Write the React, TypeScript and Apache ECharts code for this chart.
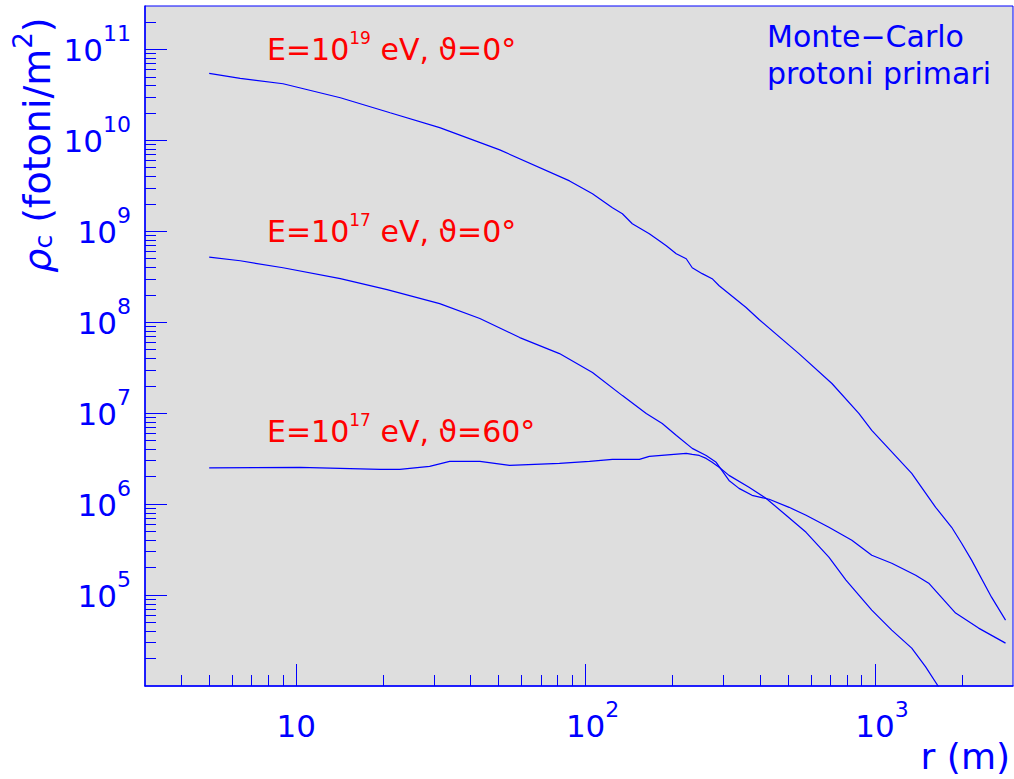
import React, { useEffect, useRef } from 'react';
import * as echarts from 'echarts';

// E = 10^19 eV, theta = 0°
const R_E19_T0 = [5, 6.4, 9, 14.2, 21.1, 31.3, 50.5, 88, 105.6, 123.8, 134, 145, 166, 179.7, 190, 205.7, 222.7, 233.6, 252.9, 273.7, 289.4, 358.6, 397.6, 546, 710, 879.6, 975, 1340, 1621, 1841, 1993, 2158, 2529, 2827];
const RHO_E19_T0 = [5.46e10, 4.81e10, 4.19e10, 2.94e10, 2.01e10, 1.38e10, 7.85e9, 3.58e9, 2.58e9, 1.81e9, 1.56e9, 1.21e9, 9.39e8, 7.87e8, 6.93e8, 5.66e8, 4.99e8, 3.97e8, 3.42e8, 3.01e8, 2.52e8, 1.45e8, 1.07e8, 4.52e7, 2.12e7, 9.93e6, 6.46e6, 2.18e6, 9.22e5, 5.56e5, 3.71e5, 2.42e5, 9.48e4, 5.30e4];

// E = 10^17 eV, theta = 0°
const R_E17_T0 = [5, 6.4, 9, 14.2, 20.6, 31.3, 43.1, 59.2, 81.2, 105.6, 134, 162, 184, 206, 233.6, 261, 282.6, 313, 339, 376, 431, 505, 578, 693, 832, 975, 1143, 1383, 1534, 1900, 2281, 2827];
const RHO_E17_T0 = [5.19e8, 4.74e8, 3.97e8, 3.01e8, 2.28e8, 1.60e8, 1.10e8, 6.78e7, 4.52e7, 2.80e7, 1.56e7, 9.93e6, 7.71e6, 5.69e6, 4.10e6, 3.43e6, 2.88e6, 1.82e6, 1.49e6, 1.25e6, 1.13e6, 9.22e5, 7.54e5, 5.56e5, 4.01e5, 2.74e5, 2.24e5, 1.65e5, 1.35e5, 6.33e4, 4.33e4, 2.96e4];

// E = 10^17 eV, theta = 60°
const R_E17_T60 = [5, 10.3, 19.5, 22.8, 28.9, 33.9, 43.1, 54.6, 81.2, 103.1, 123.8, 153.4, 166, 222.7, 233.6, 247, 261, 273.7, 289.4, 313, 367, 420, 493, 578, 693, 794, 975, 1143, 1340, 1497, 1661, 1946];
const RHO_E17_T60 = [2.50e6, 2.54e6, 2.41e6, 2.41e6, 2.60e6, 2.95e6, 2.95e6, 2.67e6, 2.81e6, 2.95e6, 3.10e6, 3.10e6, 3.35e6, 3.61e6, 3.52e6, 3.43e6, 3.18e6, 2.88e6, 2.54e6, 2.07e6, 1.53e6, 1.16e6, 7.54e5, 4.90e5, 2.61e5, 1.46e5, 6.83e4, 4.12e4, 2.61e4, 1.62e4, 9.75e3, 5.19e3];

const X_MAJOR_TICKS = [10, 100, 1000];
const X_MINOR_TICKS = [4, 5, 6, 7, 8, 9, 20, 30, 40, 50, 60, 70, 80, 90, 200, 300, 400, 500, 600, 700, 800, 900, 2000];
const Y_MAJOR_TICKS = [1e5, 1e6, 1e7, 1e8, 1e9, 1e10, 1e11];
const Y_MINOR_MANTISSAS = [2, 3, 4, 5, 6, 7, 8, 9];
const Y_MINOR_DECADES = [1e4, 1e5, 1e6, 1e7, 1e8, 1e9, 1e10];
const Y_MINOR_TICKS = [
  ...Y_MINOR_DECADES.flatMap((d) => Y_MINOR_MANTISSAS.map((m) => m * d)),
  2e11,
];

const X_MIN = 3;
const X_MAX = 3000;
const Y_MIN = 1e4;
const Y_MAX = 3e11;

const BLUE = '#0000ff';
const RED = '#ff0000';
const FONT = 'DejaVu Sans';

export default function App() {
  const ref = useRef<HTMLDivElement>(null);

  useEffect(() => {
    if (!ref.current) return;
    const chart = echarts.init(ref.current, null, { renderer: 'svg' });
    const pair = (xs: number[], ys: number[]) => xs.map((x, i) => [x, ys[i]]);
    const expOf = (v: number) => Math.round(Math.log10(v));

    const axisRich = {
      b: { fontFamily: FONT, fontSize: 31, color: BLUE, lineHeight: 43, verticalAlign: 'bottom' },
      bp: { fontFamily: FONT, fontSize: 31, color: BLUE, lineHeight: 43, verticalAlign: 'bottom', padding: [0, 0, 0, 14] },
      s: { fontFamily: FONT, fontSize: 22, color: BLUE, lineHeight: 43, verticalAlign: 'top' },
    };

    const lineSeries = (xs: number[], ys: number[]) => ({
      type: 'line',
      xAxisIndex: 0,
      yAxisIndex: 0,
      data: pair(xs, ys),
      showSymbol: false,
      symbol: 'none',
      clip: true,
      silent: true,
      lineStyle: { color: BLUE, width: 1.2 },
    });

    const annRich = {
      a: { fontFamily: FONT, fontSize: 30, fill: RED, lineHeight: 35, verticalAlign: 'bottom' },
      s: { fontFamily: FONT, fontSize: 17, fill: RED, lineHeight: 35, verticalAlign: 'top' },
    };

    const annotation = (sup: string, angle: string, y: number) => ({
      type: 'text',
      x: 267,
      y,
      silent: true,
      style: {
        text: `{a|E=10}{s|${sup}}{a| eV, ϑ=${angle}°}`,
        rich: annRich,
        align: 'left',
        verticalAlign: 'top',
        fill: RED,
      },
    });

    chart.setOption({
      animation: false,
      backgroundColor: '#ffffff',
      grid: {
        left: 145,
        top: 6,
        width: 868,
        height: 680,
        show: true,
        backgroundColor: '#dedede',
        borderColor: BLUE,
        borderWidth: 1,
      },
      xAxis: [
        {
          type: 'log',
          logBase: 10,
          min: X_MIN,
          max: X_MAX,
          position: 'bottom',
          axisLine: { show: true, lineStyle: { color: BLUE, width: 1.5 } },
          axisTick: { show: true, inside: true, length: 22, customValues: X_MAJOR_TICKS, lineStyle: { color: BLUE, width: 1 } },
          axisLabel: {
            show: true,
            customValues: X_MAJOR_TICKS,
            margin: 12,
            formatter: (v: number) => {
              const e = expOf(v);
              return e === 1 ? '{b|10}' : `{bp|10}{s|${e}}`;
            },
            rich: axisRich,
          },
          splitLine: { show: false },
          minorTick: { show: false },
        },
        {
          type: 'log',
          logBase: 10,
          min: X_MIN,
          max: X_MAX,
          position: 'bottom',
          axisLine: { show: false },
          axisTick: { show: true, inside: true, length: 11, customValues: X_MINOR_TICKS, lineStyle: { color: BLUE, width: 1 } },
          axisLabel: { show: false },
          splitLine: { show: false },
        },
      ],
      yAxis: [
        {
          type: 'log',
          logBase: 10,
          min: Y_MIN,
          max: Y_MAX,
          position: 'left',
          axisLine: { show: true, lineStyle: { color: BLUE, width: 1.5 } },
          axisTick: { show: true, inside: true, length: 22, customValues: Y_MAJOR_TICKS, lineStyle: { color: BLUE, width: 1 } },
          axisLabel: {
            show: true,
            customValues: Y_MAJOR_TICKS,
            margin: 14,
            padding: [0, 0, 11, 0],
            formatter: (v: number) => `{b|10}{s|${expOf(v)}}`,
            rich: axisRich,
          },
          splitLine: { show: false },
          minorTick: { show: false },
        },
        {
          type: 'log',
          logBase: 10,
          min: Y_MIN,
          max: Y_MAX,
          position: 'left',
          axisLine: { show: false },
          axisTick: { show: true, inside: true, length: 11, customValues: Y_MINOR_TICKS, lineStyle: { color: BLUE, width: 1 } },
          axisLabel: { show: false },
          splitLine: { show: false },
        },
      ],
      series: [
        lineSeries(R_E19_T0, RHO_E19_T0),
        lineSeries(R_E17_T0, RHO_E17_T0),
        lineSeries(R_E17_T60, RHO_E17_T60),
      ],
      graphic: [
        annotation('19', '0', 29),
        annotation('17', '0', 211),
        annotation('17', '60', 411),
        {
          type: 'text',
          x: 767,
          y: 36,
          silent: true,
          style: { text: 'Monte−Carlo', font: `30px "${FONT}"`, fill: BLUE, align: 'left', verticalAlign: 'middle' },
        },
        {
          type: 'text',
          x: 767,
          y: 73,
          silent: true,
          style: { text: 'protoni primari', font: `30px "${FONT}"`, fill: BLUE, align: 'left', verticalAlign: 'middle' },
        },
        {
          type: 'text',
          x: 1010,
          y: 756,
          silent: true,
          style: { text: 'r (m)', font: `36px "${FONT}"`, fill: BLUE, align: 'right', verticalAlign: 'middle' },
        },
        {
          type: 'text',
          x: 33,
          y: 145,
          rotation: Math.PI / 2,
          silent: true,
          style: {
            text: '{r|ρ}{sub|c}{t| (fotoni/m}{sup|2}{t|)}',
            rich: {
              r: { fontFamily: FONT, fontSize: 38, fontStyle: 'italic', fill: BLUE, lineHeight: 46, verticalAlign: 'bottom' },
              t: { fontFamily: FONT, fontSize: 38, fill: BLUE, lineHeight: 46, verticalAlign: 'bottom' },
              sub: { fontFamily: FONT, fontSize: 25, fill: BLUE, lineHeight: 46, verticalAlign: 'bottom' },
              sup: { fontFamily: FONT, fontSize: 26, fill: BLUE, lineHeight: 46, verticalAlign: 'top' },
            },
            align: 'center',
            verticalAlign: 'middle',
            fill: BLUE,
          },
        },
      ],
    });

    return () => chart.dispose();
  }, []);

  return (
    <div
      ref={ref}
      style={{ position: 'absolute', left: 0, top: 0, width: 1014, height: 779 }}
    />
  );
}
